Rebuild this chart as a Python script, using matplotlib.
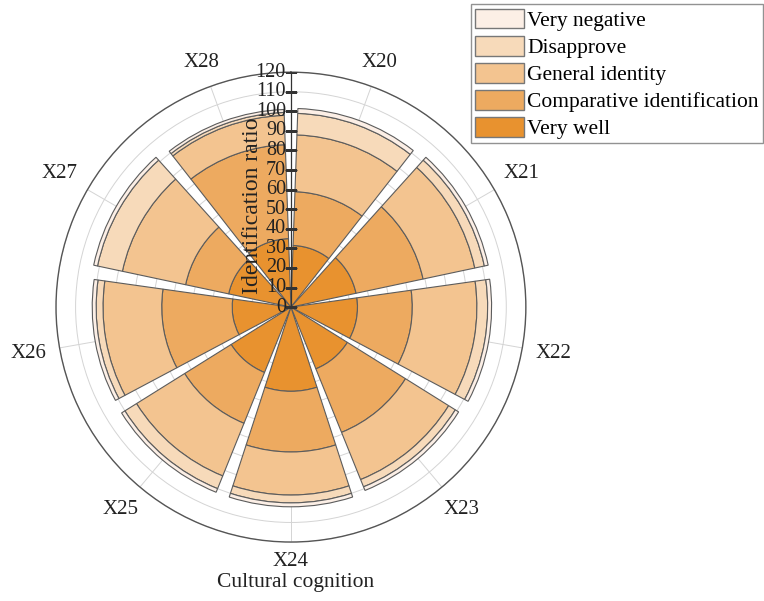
import numpy as np
import matplotlib.pyplot as plt
from matplotlib.patches import Patch
from matplotlib.transforms import offset_copy

plt.rcParams['font.family'] = ['Liberation Serif', 'DejaVu Serif']

categories = ["X20", "X21", "X22", "X23", "X24", "X25", "X26", "X27", "X28"]
levels = ["Very well", "Comparative identification", "General identity",
          "Disapprove", "Very negative"]

# segment sizes, stacked from the centre outwards
very_well = [31.5, 34, 34, 34, 43, 36, 30, 32.5, 35]
comparative = [27.5, 35, 28, 35, 31, 28, 36, 22.5, 48]
general = [29, 27, 33, 26, 22, 29, 30, 33, 15]
disapprove = [11, 5, 5.5, 4, 4, 7, 3.5, 13, 1.5]
very_negative = [2.5, 2, 2, 2, 2, 2, 2, 2, 1.5]

colors = ["#E8922F", "#EDAA60", "#F3C490", "#F7DABA", "#FCEFE6"]

fig = plt.figure(figsize=(7.64, 6.01), dpi=100)
ax = fig.add_axes([0.0733, 0.098, 0.615, 0.782], projection='polar')
ax.set_theta_zero_location('N')
ax.set_theta_direction(-1)

n = len(categories)
theta = np.deg2rad(20 + 40 * np.arange(n))
width = np.deg2rad(36)

series = [very_well, comparative, general, disapprove, very_negative]
bottom = np.zeros(n)
for vals, col in zip(series, colors):
    ax.bar(theta, vals, width=width, bottom=bottom, color=col,
           edgecolor='#5c5c5c', linewidth=0.8, zorder=3)
    bottom += np.array(vals)

ax.set_ylim(0, 120)
ax.set_yticks(np.arange(0, 130, 10))
ax.set_yticklabels([])
ax.set_xticks(theta)
ax.set_xticklabels([])
ax.set_axisbelow(True)
ax.grid(True, color='#d4d4d4', linewidth=0.7)
ax.tick_params(axis='x', length=7, direction='inout', color='#666666', width=0.8)
ax.spines['polar'].set_color('#555555')
ax.spines['polar'].set_linewidth(1.0)

# radial axis on top
rvals = np.arange(0, 130, 10)
ax.plot([0, 0], [0, 120], color='#333333', lw=0.9, zorder=5)
ax.plot(np.zeros(len(rvals)), rvals, ls='none', marker='_', markersize=8,
        color='#333333', mew=0.9, zorder=5)
lab_tr = offset_copy(ax.transData, fig, x=-5, y=0, units='dots')
for r in rvals:
    ax.text(0, r, str(r), transform=lab_tr, ha='right', va='center',
            fontsize=14.5, color='#222222', zorder=6)

ylab_tr = offset_copy(ax.transData, fig, x=-38, y=0, units='dots')
ax.text(0, 52, "Identification ratio", transform=ylab_tr, rotation=90,
        ha='center', va='center', fontsize=17, color='#222222', zorder=6)

# category labels outside the circle
for t, name in zip(theta, categories):
    d = 10 + abs(np.sin(t)) * 20 + abs(np.cos(t)) * 9
    tr = offset_copy(ax.transData, fig, x=d * np.sin(t), y=d * np.cos(t), units='dots')
    ax.text(t, 120, name, transform=tr, ha='center', va='center',
            fontsize=15, color='#222222')

fig.text(296 / 764, 1 - 583 / 601, "Cultural cognition", ha='center',
         va='center', fontsize=15.5, color='#222222')

handles = [Patch(facecolor=c, edgecolor='#777777', linewidth=1.0)
           for c in colors[::-1]]
leg = fig.legend(handles, levels[::-1], loc='upper right',
                 bbox_to_anchor=(0.999, 0.993), borderaxespad=0,
                 fontsize=15.5, frameon=True, fancybox=False,
                 handlelength=2.25, handleheight=1.05, labelspacing=0.22,
                 handletextpad=0.18, borderpad=0.2)
leg.get_frame().set_edgecolor('#777777')
leg.get_frame().set_linewidth(1.0)

fig.savefig("out.png", dpi=100)
